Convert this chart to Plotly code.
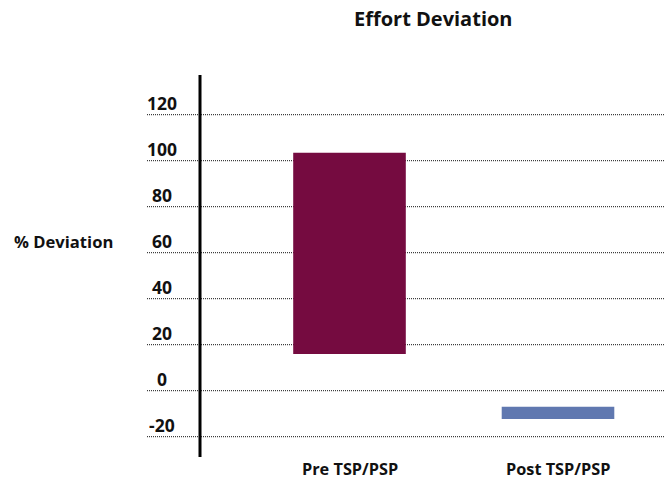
import plotly.graph_objects as go

# Effort deviation ranges (percent) before and after TSP/PSP adoption
categories = ["Pre TSP/PSP", "Post TSP/PSP"]
range_low = [16.0, -12.3]
range_high = [103.5, -7.0]
bar_colors = ["#750b40", "#6078b0"]

tick_values = [120, 100, 80, 60, 40, 20, 0, -20]
tick_labels = ["120", "100", "80", "60", "40", "20", "0", "-20"]

W, H = 665, 486
FONT = "Open Sans"
TXT = "#111111"

fig = go.Figure()
fig.add_trace(go.Bar(
    x=categories,
    y=[hi - lo for lo, hi in zip(range_low, range_high)],
    base=range_low,
    width=0.54,
    marker=dict(color=bar_colors, line=dict(width=0)),
    hoverinfo="skip",
))

shapes = []
annotations = []

# dotted horizontal guide lines with their value labels just above
for v, t in zip(tick_values, tick_labels):
    shapes.append(dict(type="line", xref="paper", yref="y",
                       x0=147 / W, x1=1.0, y0=v, y1=v,
                       line=dict(color=TXT, width=1, dash="1px,1px"),
                       layer="below"))
    annotations.append(dict(x=161.5 / W, xref="paper", y=v, yref="y",
                            text=t, showarrow=False, xanchor="center",
                            yanchor="middle", yshift=12,
                            font=dict(family=FONT, size=17.5, color=TXT,
                                      weight="bold")))

# vertical axis rule
shapes.append(dict(type="line", xref="paper", yref="paper",
                   x0=200 / W, x1=200 / W, y0=1 - 457 / H, y1=1 - 75 / H,
                   line=dict(color="black", width=3)))

# category labels under the bars
for c in categories:
    annotations.append(dict(x=c, xref="x", y=1 - 469 / H, yref="paper",
                            text=c, showarrow=False, xanchor="center",
                            yanchor="middle",
                            font=dict(family=FONT, size=16.3, color=TXT,
                                      weight="bold")))

annotations.append(dict(x=12 / W, xref="paper", y=1 - 241 / H, yref="paper",
                        text="% Deviation", showarrow=False, xanchor="left",
                        yanchor="middle",
                        font=dict(family=FONT, size=16.6, color=TXT,
                                  weight="bold")))
annotations.append(dict(x=433 / W, xref="paper", y=1 - 19 / H, yref="paper",
                        text="Effort Deviation", showarrow=False,
                        xanchor="center", yanchor="middle",
                        font=dict(family=FONT, size=20, color=TXT,
                                  weight="bold")))

# zero sits at y=390.7 px, 2.3 px per percent; categories 208.5 px apart
y_top = 390.7 / 2.3
y_bot = -(H - 390.7) / 2.3
x_left = -349.5 / 208.5
x_right = (W - 349.5) / 208.5

fig.update_layout(
    width=W, height=H,
    margin=dict(l=0, r=0, t=0, b=0),
    paper_bgcolor="white", plot_bgcolor="white",
    showlegend=False,
    xaxis=dict(range=[x_left, x_right], showticklabels=False,
               showgrid=False, zeroline=False, showline=False, ticks=""),
    yaxis=dict(range=[y_bot, y_top], showticklabels=False,
               showgrid=False, zeroline=False, showline=False, ticks=""),
    shapes=shapes,
    annotations=annotations,
)

fig.write_html("out.html")
